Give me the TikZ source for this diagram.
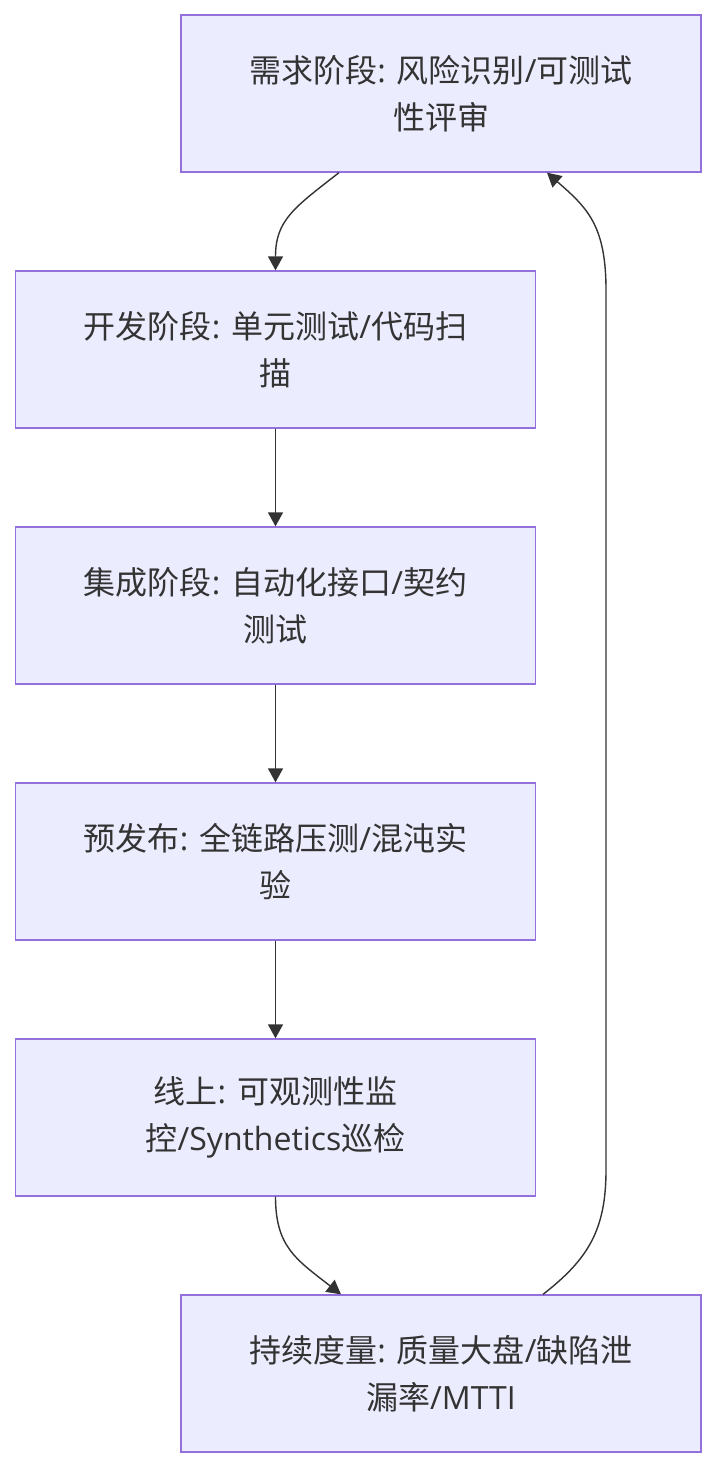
\documentclass[tikz,border=0pt]{standalone}
\usepackage{fontspec}
\setmainfont{Noto Sans CJK SC}
\newfontfamily\latf{Open Sans}
\newcommand{\la}[1]{{\latf #1}}
\usetikzlibrary{arrows.meta}
\definecolor{boxfill}{HTML}{ECECFF}
\definecolor{boxline}{HTML}{9370DB}
\definecolor{ink}{HTML}{333333}
\begin{document}
\begin{tikzpicture}[x=1pt,y=-1pt,
  stagebox/.style={rectangle,draw=boxline,fill=boxfill,line width=1.3pt,
    minimum width=520pt,minimum height=157pt,inner sep=0pt,align=center,
    text=ink,font=\fontsize{32}{47}\selectfont},
  flow/.style={draw=ink,line width=1.4pt,-{Triangle[length=14pt,width=15pt]}}]
\useasboundingbox (0,0) rectangle (717,1468);
\node[stagebox] (a) at (441,93.5) {需求阶段\la{: }风险识别\la{/}可测试\\性评审};
\node[stagebox] (b) at (275.5,349.5) {开发阶段\la{: }单元测试\la{/}代码扫\\描};
\node[stagebox] (c) at (275.5,605.5) {集成阶段\la{: }自动化接口\la{/}契约\\测试};
\node[stagebox] (d) at (275.5,861.5) {预发布\la{: }全链路压测\la{/}混沌实\\验};
\node[stagebox] (e) at (275.5,1117.5) {线上\la{: }可观测性监\\控\la{/Synthetics}巡检};
\node[stagebox] (f) at (441,1373.5) {持续度量\la{: }质量大盘\la{/}缺陷泄\\漏率\la{/MTTI}};
\draw[flow] ([xshift=-102pt]a.south) .. controls +(-45,35) and +(0,-50) .. (b.north);
\draw[flow] (b) -- (c);
\draw[flow] (c) -- (d);
\draw[flow] (d) -- (e);
\draw[flow] (e.south) .. controls +(0,50) and +(-45,-35) .. ([xshift=-100pt]f.north);
\coordinate (r1) at (606,1170);
\coordinate (r2) at (606,290);
\draw[flow] ([xshift=102pt]f.north) .. controls +(45,-35) and +(0,60) .. (r1) -- (r2) .. controls +(0,-65) and +(40,35) .. ([xshift=106pt]a.south);
\end{tikzpicture}
\end{document}
